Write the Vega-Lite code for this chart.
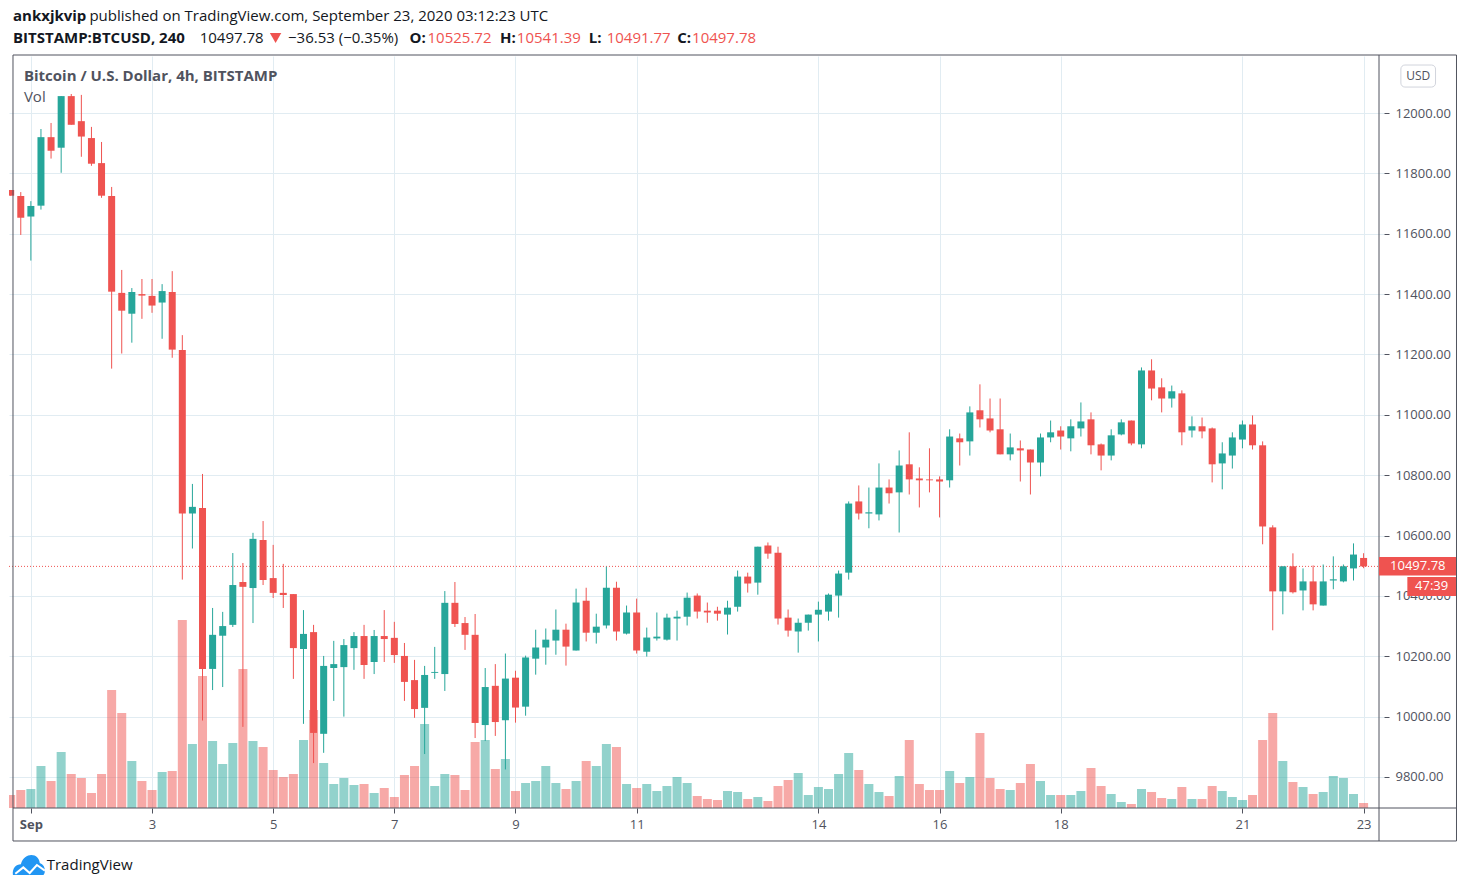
{
  "$schema": "https://vega.github.io/schema/vega-lite/v6.json",
  "width": 1375,
  "height": 752,
  "autosize": {"type": "none"},
  "padding": {"left": 9, "top": 56, "right": 86, "bottom": 80},
  "background": "white",
  "config": {"view": {"stroke": null}, "font": "Open Sans"},
  "datasets": {
    "candles": [
      {"t":"2020-08-31T16:00Z","o":11745,"h":11745,"l":11726,"c":11726,"v":130},
      {"t":"2020-08-31T20:00Z","o":11725,"h":11738,"l":11596,"c":11653,"v":180},
      {"t":"2020-09-01T00:00Z","o":11657,"h":11708,"l":11511,"c":11692,"v":190},
      {"t":"2020-09-01T04:00Z","o":11693,"h":11947,"l":11680,"c":11920,"v":420},
      {"t":"2020-09-01T08:00Z","o":11920,"h":11967,"l":11849,"c":11875,"v":270},
      {"t":"2020-09-01T12:00Z","o":11885,"h":12056,"l":11802,"c":12056,"v":560},
      {"t":"2020-09-01T16:00Z","o":12056,"h":12063,"l":11961,"c":11961,"v":340},
      {"t":"2020-09-01T20:00Z","o":11973,"h":12060,"l":11855,"c":11922,"v":300},
      {"t":"2020-09-02T00:00Z","o":11917,"h":11954,"l":11825,"c":11832,"v":150},
      {"t":"2020-09-02T04:00Z","o":11834,"h":11904,"l":11719,"c":11726,"v":340},
      {"t":"2020-09-02T08:00Z","o":11725,"h":11755,"l":11153,"c":11408,"v":1180},
      {"t":"2020-09-02T12:00Z","o":11404,"h":11480,"l":11203,"c":11345,"v":950},
      {"t":"2020-09-02T16:00Z","o":11335,"h":11420,"l":11239,"c":11407,"v":470},
      {"t":"2020-09-02T20:00Z","o":11400,"h":11450,"l":11318,"c":11395,"v":270},
      {"t":"2020-09-03T00:00Z","o":11394,"h":11450,"l":11338,"c":11362,"v":180},
      {"t":"2020-09-03T04:00Z","o":11372,"h":11433,"l":11252,"c":11410,"v":360},
      {"t":"2020-09-03T08:00Z","o":11407,"h":11476,"l":11189,"c":11216,"v":370},
      {"t":"2020-09-03T12:00Z","o":11215,"h":11264,"l":10454,"c":10673,"v":1880},
      {"t":"2020-09-03T16:00Z","o":10673,"h":10771,"l":10557,"c":10695,"v":640},
      {"t":"2020-09-03T20:00Z","o":10691,"h":10804,"l":9987,"c":10158,"v":1320},
      {"t":"2020-09-04T00:00Z","o":10158,"h":10360,"l":10088,"c":10271,"v":670},
      {"t":"2020-09-04T04:00Z","o":10268,"h":10347,"l":10098,"c":10300,"v":440},
      {"t":"2020-09-04T08:00Z","o":10304,"h":10542,"l":10297,"c":10436,"v":650},
      {"t":"2020-09-04T12:00Z","o":10446,"h":10509,"l":9966,"c":10430,"v":1390},
      {"t":"2020-09-04T16:00Z","o":10426,"h":10609,"l":10310,"c":10589,"v":670},
      {"t":"2020-09-04T20:00Z","o":10585,"h":10648,"l":10436,"c":10453,"v":610},
      {"t":"2020-09-05T00:00Z","o":10459,"h":10569,"l":10393,"c":10410,"v":380},
      {"t":"2020-09-05T04:00Z","o":10410,"h":10506,"l":10360,"c":10403,"v":310},
      {"t":"2020-09-05T08:00Z","o":10406,"h":10406,"l":10125,"c":10227,"v":340},
      {"t":"2020-09-05T12:00Z","o":10224,"h":10353,"l":9976,"c":10274,"v":680},
      {"t":"2020-09-05T16:00Z","o":10280,"h":10304,"l":9846,"c":9946,"v":980},
      {"t":"2020-09-05T20:00Z","o":9943,"h":10201,"l":9880,"c":10168,"v":450},
      {"t":"2020-09-06T00:00Z","o":10161,"h":10251,"l":10052,"c":10174,"v":240},
      {"t":"2020-09-06T04:00Z","o":10164,"h":10257,"l":10000,"c":10237,"v":300},
      {"t":"2020-09-06T08:00Z","o":10227,"h":10280,"l":10155,"c":10267,"v":230},
      {"t":"2020-09-06T12:00Z","o":10267,"h":10304,"l":10125,"c":10171,"v":240},
      {"t":"2020-09-06T16:00Z","o":10181,"h":10287,"l":10141,"c":10267,"v":150},
      {"t":"2020-09-06T20:00Z","o":10267,"h":10353,"l":10181,"c":10257,"v":200},
      {"t":"2020-09-07T00:00Z","o":10261,"h":10314,"l":10178,"c":10204,"v":110},
      {"t":"2020-09-07T04:00Z","o":10201,"h":10244,"l":10052,"c":10115,"v":330},
      {"t":"2020-09-07T08:00Z","o":10121,"h":10188,"l":9996,"c":10025,"v":420},
      {"t":"2020-09-07T12:00Z","o":10029,"h":10168,"l":9876,"c":10138,"v":840},
      {"t":"2020-09-07T16:00Z","o":10145,"h":10231,"l":10125,"c":10148,"v":220},
      {"t":"2020-09-07T20:00Z","o":10141,"h":10416,"l":10085,"c":10377,"v":340},
      {"t":"2020-09-08T00:00Z","o":10377,"h":10446,"l":10297,"c":10307,"v":330},
      {"t":"2020-09-08T04:00Z","o":10310,"h":10330,"l":10221,"c":10271,"v":180},
      {"t":"2020-09-08T08:00Z","o":10271,"h":10340,"l":9929,"c":9979,"v":660},
      {"t":"2020-09-08T12:00Z","o":9972,"h":10161,"l":9919,"c":10098,"v":680},
      {"t":"2020-09-08T16:00Z","o":10102,"h":10174,"l":9936,"c":9982,"v":390},
      {"t":"2020-09-08T20:00Z","o":9988,"h":10209,"l":9825,"c":10126,"v":490},
      {"t":"2020-09-09T00:00Z","o":10129,"h":10152,"l":9980,"c":10030,"v":170},
      {"t":"2020-09-09T04:00Z","o":10033,"h":10202,"l":10003,"c":10196,"v":250},
      {"t":"2020-09-09T08:00Z","o":10192,"h":10288,"l":10139,"c":10229,"v":270},
      {"t":"2020-09-09T12:00Z","o":10229,"h":10292,"l":10172,"c":10255,"v":420},
      {"t":"2020-09-09T16:00Z","o":10252,"h":10355,"l":10205,"c":10288,"v":250},
      {"t":"2020-09-09T20:00Z","o":10288,"h":10308,"l":10169,"c":10232,"v":190},
      {"t":"2020-09-10T00:00Z","o":10219,"h":10424,"l":10219,"c":10378,"v":270},
      {"t":"2020-09-10T04:00Z","o":10384,"h":10427,"l":10249,"c":10278,"v":470},
      {"t":"2020-09-10T08:00Z","o":10278,"h":10341,"l":10242,"c":10298,"v":420},
      {"t":"2020-09-10T12:00Z","o":10302,"h":10497,"l":10292,"c":10427,"v":640},
      {"t":"2020-09-10T16:00Z","o":10427,"h":10447,"l":10252,"c":10282,"v":610},
      {"t":"2020-09-10T20:00Z","o":10275,"h":10368,"l":10272,"c":10345,"v":240},
      {"t":"2020-09-11T00:00Z","o":10345,"h":10391,"l":10209,"c":10219,"v":200},
      {"t":"2020-09-11T04:00Z","o":10215,"h":10295,"l":10199,"c":10262,"v":240},
      {"t":"2020-09-11T08:00Z","o":10259,"h":10345,"l":10252,"c":10265,"v":170},
      {"t":"2020-09-11T12:00Z","o":10255,"h":10341,"l":10252,"c":10328,"v":220},
      {"t":"2020-09-11T16:00Z","o":10325,"h":10351,"l":10252,"c":10331,"v":310},
      {"t":"2020-09-11T20:00Z","o":10331,"h":10411,"l":10302,"c":10394,"v":250},
      {"t":"2020-09-12T00:00Z","o":10401,"h":10408,"l":10325,"c":10348,"v":120},
      {"t":"2020-09-12T04:00Z","o":10351,"h":10378,"l":10311,"c":10345,"v":90},
      {"t":"2020-09-12T08:00Z","o":10351,"h":10364,"l":10318,"c":10341,"v":80},
      {"t":"2020-09-12T12:00Z","o":10338,"h":10384,"l":10272,"c":10361,"v":170},
      {"t":"2020-09-12T16:00Z","o":10364,"h":10484,"l":10348,"c":10464,"v":160},
      {"t":"2020-09-12T20:00Z","o":10464,"h":10477,"l":10411,"c":10441,"v":90},
      {"t":"2020-09-13T00:00Z","o":10444,"h":10563,"l":10404,"c":10563,"v":110},
      {"t":"2020-09-13T04:00Z","o":10567,"h":10577,"l":10523,"c":10540,"v":70},
      {"t":"2020-09-13T08:00Z","o":10543,"h":10563,"l":10305,"c":10325,"v":220},
      {"t":"2020-09-13T12:00Z","o":10328,"h":10355,"l":10265,"c":10285,"v":280},
      {"t":"2020-09-13T16:00Z","o":10282,"h":10325,"l":10212,"c":10311,"v":350},
      {"t":"2020-09-13T20:00Z","o":10311,"h":10338,"l":10285,"c":10338,"v":130},
      {"t":"2020-09-14T00:00Z","o":10338,"h":10381,"l":10249,"c":10354,"v":210},
      {"t":"2020-09-14T04:00Z","o":10348,"h":10408,"l":10318,"c":10404,"v":190},
      {"t":"2020-09-14T08:00Z","o":10401,"h":10484,"l":10328,"c":10474,"v":340},
      {"t":"2020-09-14T12:00Z","o":10477,"h":10713,"l":10454,"c":10706,"v":550},
      {"t":"2020-09-14T16:00Z","o":10713,"h":10766,"l":10653,"c":10673,"v":380},
      {"t":"2020-09-14T20:00Z","o":10673,"h":10759,"l":10624,"c":10677,"v":240},
      {"t":"2020-09-15T00:00Z","o":10670,"h":10839,"l":10650,"c":10759,"v":160},
      {"t":"2020-09-15T04:00Z","o":10759,"h":10786,"l":10706,"c":10740,"v":120},
      {"t":"2020-09-15T08:00Z","o":10743,"h":10882,"l":10610,"c":10832,"v":320},
      {"t":"2020-09-15T12:00Z","o":10836,"h":10942,"l":10736,"c":10786,"v":680},
      {"t":"2020-09-15T16:00Z","o":10789,"h":10826,"l":10693,"c":10783,"v":240},
      {"t":"2020-09-15T20:00Z","o":10786,"h":10889,"l":10743,"c":10783,"v":180},
      {"t":"2020-09-16T00:00Z","o":10786,"h":10796,"l":10660,"c":10779,"v":180},
      {"t":"2020-09-16T04:00Z","o":10783,"h":10952,"l":10759,"c":10928,"v":370},
      {"t":"2020-09-16T08:00Z","o":10922,"h":10938,"l":10832,"c":10909,"v":250},
      {"t":"2020-09-16T12:00Z","o":10912,"h":11028,"l":10865,"c":11008,"v":310},
      {"t":"2020-09-16T16:00Z","o":11015,"h":11101,"l":10958,"c":10985,"v":750},
      {"t":"2020-09-16T20:00Z","o":10988,"h":11054,"l":10942,"c":10948,"v":300},
      {"t":"2020-09-17T00:00Z","o":10952,"h":11054,"l":10869,"c":10869,"v":190},
      {"t":"2020-09-17T04:00Z","o":10869,"h":10938,"l":10849,"c":10892,"v":180},
      {"t":"2020-09-17T08:00Z","o":10889,"h":10915,"l":10779,"c":10882,"v":250},
      {"t":"2020-09-17T12:00Z","o":10885,"h":10885,"l":10736,"c":10842,"v":440},
      {"t":"2020-09-17T16:00Z","o":10842,"h":10938,"l":10796,"c":10925,"v":270},
      {"t":"2020-09-17T20:00Z","o":10925,"h":10981,"l":10909,"c":10942,"v":130},
      {"t":"2020-09-18T00:00Z","o":10948,"h":10962,"l":10885,"c":10928,"v":130},
      {"t":"2020-09-18T04:00Z","o":10922,"h":10985,"l":10879,"c":10962,"v":130},
      {"t":"2020-09-18T08:00Z","o":10955,"h":11041,"l":10928,"c":10978,"v":170},
      {"t":"2020-09-18T12:00Z","o":10985,"h":11008,"l":10869,"c":10899,"v":400},
      {"t":"2020-09-18T16:00Z","o":10902,"h":10905,"l":10816,"c":10865,"v":220},
      {"t":"2020-09-18T20:00Z","o":10865,"h":10952,"l":10849,"c":10932,"v":140},
      {"t":"2020-09-19T00:00Z","o":10935,"h":10985,"l":10932,"c":10975,"v":60},
      {"t":"2020-09-19T04:00Z","o":10981,"h":10981,"l":10899,"c":10905,"v":40},
      {"t":"2020-09-19T08:00Z","o":10902,"h":11157,"l":10889,"c":11147,"v":190},
      {"t":"2020-09-19T12:00Z","o":11147,"h":11184,"l":11048,"c":11087,"v":160},
      {"t":"2020-09-19T16:00Z","o":11091,"h":11121,"l":11008,"c":11054,"v":100},
      {"t":"2020-09-19T20:00Z","o":11054,"h":11097,"l":11024,"c":11078,"v":90},
      {"t":"2020-09-20T00:00Z","o":11071,"h":11081,"l":10899,"c":10942,"v":210},
      {"t":"2020-09-20T04:00Z","o":10948,"h":10995,"l":10925,"c":10962,"v":90},
      {"t":"2020-09-20T08:00Z","o":10962,"h":10991,"l":10922,"c":10945,"v":90},
      {"t":"2020-09-20T12:00Z","o":10955,"h":10958,"l":10776,"c":10836,"v":220},
      {"t":"2020-09-20T16:00Z","o":10839,"h":10909,"l":10753,"c":10872,"v":170},
      {"t":"2020-09-20T20:00Z","o":10865,"h":10942,"l":10822,"c":10925,"v":110},
      {"t":"2020-09-21T00:00Z","o":10918,"h":10981,"l":10889,"c":10968,"v":80},
      {"t":"2020-09-21T04:00Z","o":10968,"h":10998,"l":10885,"c":10899,"v":130},
      {"t":"2020-09-21T08:00Z","o":10899,"h":10912,"l":10571,"c":10630,"v":680},
      {"t":"2020-09-21T12:00Z","o":10627,"h":10634,"l":10286,"c":10415,"v":950},
      {"t":"2020-09-21T16:00Z","o":10415,"h":10498,"l":10339,"c":10498,"v":470},
      {"t":"2020-09-21T20:00Z","o":10498,"h":10541,"l":10408,"c":10412,"v":260},
      {"t":"2020-09-22T00:00Z","o":10418,"h":10491,"l":10352,"c":10448,"v":210},
      {"t":"2020-09-22T04:00Z","o":10448,"h":10501,"l":10352,"c":10372,"v":140},
      {"t":"2020-09-22T08:00Z","o":10368,"h":10504,"l":10368,"c":10448,"v":160},
      {"t":"2020-09-22T12:00Z","o":10451,"h":10531,"l":10422,"c":10455,"v":320},
      {"t":"2020-09-22T16:00Z","o":10448,"h":10504,"l":10445,"c":10498,"v":300},
      {"t":"2020-09-22T20:00Z","o":10491,"h":10574,"l":10451,"c":10537,"v":140},
      {"t":"2020-09-23T00:00Z","o":10525.72,"h":10541.39,"l":10491.77,"c":10497.78,"v":50}
    ]
  },
  "encoding": {
    "x": {
      "field": "t",
      "type": "temporal",
      "title": null,
      "scale": {"type": "utc", "domain": ["2020-08-31T17:19:00Z", "2020-09-23T06:06:00Z"]},
      "axis": {
        "values": [
          {"utc": true, "year": 2020, "month": 9, "date": 1},
          {"utc": true, "year": 2020, "month": 9, "date": 3},
          {"utc": true, "year": 2020, "month": 9, "date": 5},
          {"utc": true, "year": 2020, "month": 9, "date": 7},
          {"utc": true, "year": 2020, "month": 9, "date": 9},
          {"utc": true, "year": 2020, "month": 9, "date": 11},
          {"utc": true, "year": 2020, "month": 9, "date": 14},
          {"utc": true, "year": 2020, "month": 9, "date": 16},
          {"utc": true, "year": 2020, "month": 9, "date": 18},
          {"utc": true, "year": 2020, "month": 9, "date": 21},
          {"utc": true, "year": 2020, "month": 9, "date": 23}
        ],
        "labelExpr": "utcdate(datum.value) == 1 ? 'Sep' : utcdate(datum.value)",
        "labelFontWeight": {"expr": "utcdate(datum.value) == 1 ? 'bold' : 'normal'"},
        "labelFontSize": 13,
        "labelColor": "#50535e",
        "labelPadding": 5,
        "labelOverlap": false,
        "labelFlush": false,
        "labelBound": false,
        "domain": false,
        "tickColor": "#50535e",
        "tickSize": 5,
        "gridColor": "#e1ecf2",
        "grid": true
      }
    }
  },
  "layer": [
    {
      "data": {"values": [{"p": 10497.78}]},
      "mark": {"type": "rule", "color": "#ef5350", "strokeDash": [1, 2], "strokeWidth": 1},
      "encoding": {
        "x": {"value": 0},
        "x2": {"value": 1375},
        "y": {
          "field": "p",
          "type": "quantitative",
          "scale": {"domain": [9697.2, 12188.9], "nice": false, "zero": false},
          "axis": {
            "orient": "right",
            "title": null,
            "values": [9800, 10000, 10200, 10400, 10600, 10800, 11000, 11200, 11400, 11600, 11800, 12000],
            "format": ".2f",
            "labelFontSize": 13,
            "labelColor": "#50535e",
            "labelPadding": 6,
            "domain": false,
            "tickColor": "#50535e",
            "tickSize": 5,
            "grid": true,
            "gridColor": "#e1ecf2"
          }
        }
      }
    },
    {
      "data": {"name": "candles"},
      "mark": {"type": "bar", "size": 9, "opacity": 0.5, "clip": true},
      "encoding": {
        "y": {"field": "v", "type": "quantitative", "scale": {"domain": [0, 7520]}, "axis": null},
        "color": {"condition": {"test": "datum.c >= datum.o", "value": "#26a69a"}, "value": "#ef5350"}
      }
    },
    {
      "data": {"name": "candles"},
      "encoding": {
        "color": {"condition": {"test": "datum.c >= datum.o", "value": "#26a69a"}, "value": "#ef5350"}
      },
      "layer": [
        {
          "mark": {"type": "rule", "strokeWidth": 1, "clip": true},
          "encoding": {
            "y": {"field": "l", "type": "quantitative", "scale": {"domain": [9697.2, 12188.9], "nice": false, "zero": false}, "axis": null},
            "y2": {"field": "h"}
          }
        },
        {
          "mark": {"type": "bar", "size": 7, "clip": true},
          "encoding": {
            "y": {"field": "o", "type": "quantitative", "scale": {"domain": [9697.2, 12188.9], "nice": false, "zero": false}, "axis": null},
            "y2": {"field": "c"}
          }
        }
      ]
    },
    {
      "encoding": {
        "y": {"field": "p", "type": "quantitative", "scale": {"domain": [9697.2, 12188.9], "nice": false, "zero": false}, "axis": null}
      },
      "layer": [
        {
          "data": {"values": [{"t": "2020-08-31T16:55:00Z", "t2": "2020-09-24T12:48:00Z", "p": 12192.2, "p2": 9587.9}]},
          "mark": {"type": "rect", "filled": false, "stroke": "#50535e", "strokeWidth": 1},
          "encoding": {"x2": {"field": "t2"}, "y2": {"field": "p2"}}
        },
        {
          "data": {"values": [{"t": "2020-08-31T16:55:00Z", "t2": "2020-09-24T12:48:00Z", "p": 9697.2}]},
          "mark": {"type": "rule", "color": "#50535e", "strokeWidth": 1},
          "encoding": {"x2": {"field": "t2"}}
        },
        {
          "data": {"values": [{"t": "2020-09-23T06:06:00Z", "p": 12192.2, "p2": 9587.9}]},
          "mark": {"type": "rule", "color": "#50535e", "strokeWidth": 1},
          "encoding": {"y2": {"field": "p2"}}
        },
        {
          "data": {"values": [
            {"t": "2020-09-23T06:06:00Z", "t2": "2020-09-24T12:36:00Z", "p": 10528.9, "p2": 10467.6},
            {"t": "2020-09-23T17:20:00Z", "t2": "2020-09-24T12:36:00Z", "p": 10462.6, "p2": 10399.6}
          ]},
          "mark": {"type": "rect", "fill": "#ef5350"},
          "encoding": {"x2": {"field": "t2"}, "y2": {"field": "p2"}}
        },
        {
          "data": {"values": [
            {"t": "2020-09-23T21:28:00Z", "p": 10499, "label": "10497.78"},
            {"t": "2020-09-24T02:58:00Z", "p": 10432, "label": "47:39"}
          ]},
          "mark": {"type": "text", "color": "white", "fontSize": 13, "align": "center", "baseline": "middle"},
          "encoding": {"text": {"field": "label"}}
        },
        {
          "data": {"values": [{"t": "2020-09-23T14:46:00Z", "t2": "2020-09-24T04:30:00Z", "p": 12159, "p2": 12086}]},
          "mark": {"type": "rect", "filled": false, "stroke": "#d1d4dc", "strokeWidth": 1, "cornerRadius": 4},
          "encoding": {"x2": {"field": "t2"}, "y2": {"field": "p2"}}
        },
        {
          "data": {"values": [{"t": "2020-09-23T21:39:00Z", "p": 12123, "label": "USD"}]},
          "mark": {"type": "text", "color": "#50535e", "fontSize": 12, "align": "center", "baseline": "middle"},
          "encoding": {"text": {"field": "label"}}
        },
        {
          "data": {"values": [
            {"t": "2020-09-01T23:12:00Z", "p": 12321, "label": "published on TradingView.com, September 23, 2020 03:12:23 UTC"},
            {"t": "2020-09-03T18:52:00Z", "p": 12248.5, "label": "10497.78"},
            {"t": "2020-09-05T05:52:00Z", "p": 12248.5, "label": "−36.53 (−0.35%)"},
            {"t": "2020-09-01T06:17:00Z", "p": 9508.4, "label": "TradingView"}
          ]},
          "mark": {"type": "text", "color": "#131722", "fontSize": 15, "align": "left", "baseline": "middle"},
          "encoding": {"text": {"field": "label"}}
        },
        {
          "data": {"values": [
            {"t": "2020-08-31T16:55:00Z", "p": 12321, "label": "ankxjkvip"},
            {"t": "2020-08-31T16:55:00Z", "p": 12248.5, "label": "BITSTAMP:BTCUSD, 240"},
            {"t": "2020-09-07T06:03:00Z", "p": 12248.5, "label": "O:"},
            {"t": "2020-09-08T17:53:00Z", "p": 12248.5, "label": "H:"},
            {"t": "2020-09-10T05:02:00Z", "p": 12248.5, "label": "L:"},
            {"t": "2020-09-11T16:03:00Z", "p": 12248.5, "label": "C:"}
          ]},
          "mark": {"type": "text", "color": "#131722", "fontSize": 15, "fontWeight": "bold", "align": "left", "baseline": "middle"},
          "encoding": {"text": {"field": "label"}}
        },
        {
          "data": {"values": [
            {"t": "2020-09-07T13:08:00Z", "p": 12248.5, "label": "10525.72"},
            {"t": "2020-09-09T00:32:00Z", "p": 12248.5, "label": "10541.39"},
            {"t": "2020-09-10T12:07:00Z", "p": 12248.5, "label": "10491.77"},
            {"t": "2020-09-11T21:57:00Z", "p": 12248.5, "label": "10497.78"}
          ]},
          "mark": {"type": "text", "color": "#ef5350", "fontSize": 15, "align": "left", "baseline": "middle"},
          "encoding": {"text": {"field": "label"}}
        },
        {
          "data": {"values": [{"t": "2020-09-05T00:57:00Z", "p": 12248.5}]},
          "mark": {"type": "point", "shape": "triangle-down", "filled": true, "color": "#ef5350", "opacity": 1, "size": 130}
        },
        {
          "data": {"values": [{"t": "2020-08-31T21:15:00Z", "p": 12122.6, "label": "Bitcoin / U.S. Dollar, 4h, BITSTAMP"}]},
          "mark": {"type": "text", "color": "#50535e", "fontSize": 15, "fontWeight": "bold", "align": "left", "baseline": "middle"},
          "encoding": {"text": {"field": "label"}}
        },
        {
          "data": {"values": [{"t": "2020-08-31T21:15:00Z", "p": 12053, "label": "Vol"}]},
          "mark": {"type": "text", "color": "#50535e", "fontSize": 15, "align": "left", "baseline": "middle"},
          "encoding": {"text": {"field": "label"}}
        },
        {
          "data": {"values": [{"t": "2020-08-31T23:13:00Z", "p": 9508.4}]},
          "mark": {
            "type": "point",
            "shape": "M-1 0.62 C-1.05 0.2 -0.8 -0.05 -0.5 -0.05 C-0.4 -0.45 -0.1 -0.62 0.15 -0.62 C0.45 -0.62 0.65 -0.4 0.68 -0.12 C0.9 -0.05 1 0.15 1 0.35 C1 0.5 0.95 0.62 0.9 0.62 Z",
            "filled": true,
            "color": "#2196f3",
            "opacity": 1,
            "size": 1024
          }
        },
        {
          "data": {"values": [{"t": "2020-08-31T23:13:00Z", "p": 9508.4}]},
          "mark": {
            "type": "point",
            "shape": "M-0.85 0.55 L-0.35 0.15 L0.05 0.5 L0.5 0 L1 0.35",
            "filled": false,
            "color": "white",
            "strokeWidth": 2,
            "opacity": 1,
            "size": 1024
          }
        }
      ]
    }
  ],
  "resolve": {"scale": {"y": "independent", "color": "independent"}}
}
